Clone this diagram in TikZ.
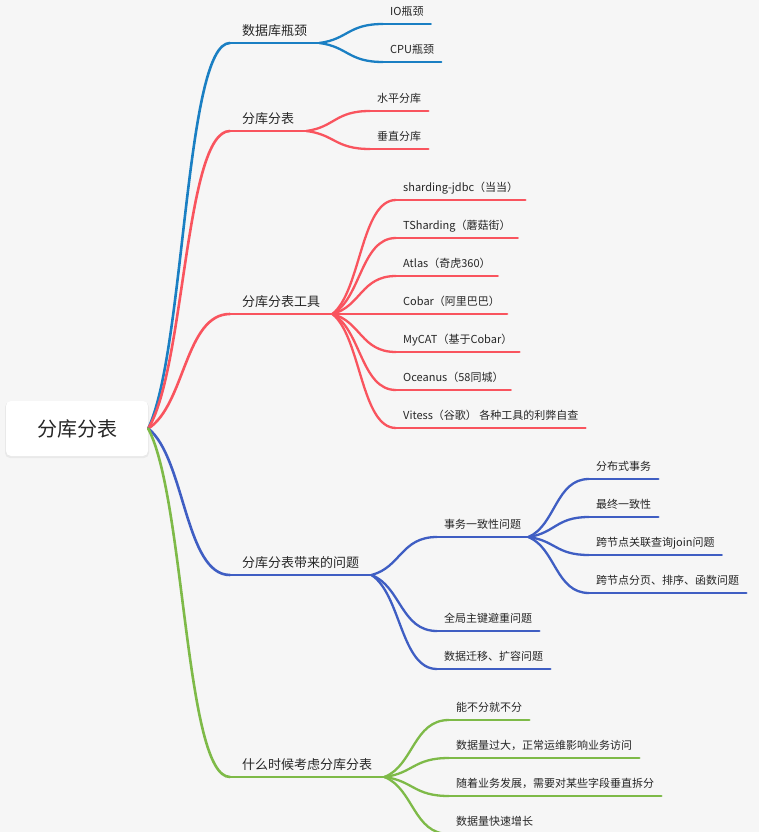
\documentclass[tikz,border=0pt]{standalone}
\usepackage{fontspec}
\setmainfont{Noto Sans CJK SC}
\usetikzlibrary{calc}

\definecolor{bg}{HTML}{F6F6F6}
\definecolor{ink}{HTML}{262626}
\definecolor{dbblue}{HTML}{1A7FC3}
\definecolor{splitred}{HTML}{F9545E}
\definecolor{probblue}{HTML}{3F5EC3}
\definecolor{whengreen}{HTML}{7EBA48}

% curved connector from one anchor to another
\newcommand\bough[3][thin branch]{\draw[#1] let \p1=(#2), \p2=(#3) in (\p1) .. controls ({\x1+0.45*(\x2-\x1)},{\y1+0.2*(\y2-\y1)}) and ({\x1+0.45*(\x2-\x1)},\y2) .. (\p2);}

\tikzset{
  rootbox/.style={fill=white, rounded corners=5pt, minimum width=142pt, minimum height=55pt, font=\fontsize{20}{24}\selectfont, text=ink},
  topic/.style={anchor=south west, inner xsep=12pt, inner ysep=4.5pt, text height=11pt, text depth=2.5pt, font=\fontsize{13}{15}\selectfont, text=ink},
  leaf/.style={anchor=south west, inner xsep=7pt, inner ysep=6pt, text height=9pt, text depth=2pt, font=\fontsize{11}{13}\selectfont, text=ink},
  thick branch/.style={line width=2.6pt},
  thin branch/.style={line width=2.3pt}
}

\begin{document}
\begin{tikzpicture}[x=1pt, y=-1pt, line cap=round]
  \fill[bg] (0,0) rectangle (759,832);
  \useasboundingbox (0,0) rectangle (759,832);
  \clip (0,0) rectangle (759,832);

  % root
  \fill[black, opacity=0.05, rounded corners=5pt] (5,402) rectangle (149,458);
  \node[rootbox] (root) at (77,428.5) {分库分表};

  % 数据库瓶颈
  \begin{scope}[color=dbblue]
    \node[topic] (db) at (230,43) {数据库瓶颈};
    \draw[thick branch] (db.south west) -- (db.south east);
    \bough[thick branch]{root.east}{db.south west}
    \foreach \y/\name/\txt in {24/io/IO瓶颈, 62/cpu/CPU瓶颈} {
      \node[leaf] (\name) at (383,\y) {\txt};
      \draw[thin branch] (\name.south west) -- (\name.south east);
      \bough{db.south east}{\name.south west}
    }
  \end{scope}

  % 分库分表
  \begin{scope}[color=splitred]
    \node[topic] (split) at (230,131) {分库分表};
    \draw[thick branch] (split.south west) -- (split.south east);
    \bough[thick branch]{root.east}{split.south west}
    \foreach \y/\name/\txt in {111/horiz/水平分库, 149/vert/垂直分库} {
      \node[leaf] (\name) at (370,\y) {\txt};
      \draw[thin branch] (\name.south west) -- (\name.south east);
      \bough{split.south east}{\name.south west}
    }
  \end{scope}

  % 分库分表工具
  \begin{scope}[color=splitred]
    \node[topic] (tool) at (230,314) {分库分表工具};
    \draw[thick branch] (tool.south west) -- (tool.south east);
    \bough[thick branch]{root.east}{tool.south west}
    \foreach \y/\name/\txt in {200/sj/sharding-jdbc（当当）, 238/ts/TSharding（蘑菇街）, 276/atlas/Atlas（奇虎360）,
        314/cobar/Cobar（阿里巴巴）, 352/mycat/MyCAT（基于Cobar）, 390/oceanus/Oceanus（58同城）,
        428/vitess/Vitess（谷歌） 各种工具的利弊自查} {
      \node[leaf] (\name) at (396,\y) {\txt};
      \draw[thin branch] (\name.south west) -- (\name.south east);
      \bough{tool.south east}{\name.south west}
    }
  \end{scope}

  % 分库分表带来的问题
  \begin{scope}[color=probblue]
    \node[topic] (prob) at (230,575) {分库分表带来的问题};
    \draw[thick branch] (prob.south west) -- (prob.south east);
    \bough[thick branch]{root.east}{prob.south west}
    \foreach \y/\name/\txt in {537/trans/事务一致性问题, 631/pk/全局主键避重问题, 669/mig/数据迁移、扩容问题} {
      \node[leaf] (\name) at (437,\y) {\txt};
      \draw[thin branch] (\name.south west) -- (\name.south east);
      \bough{prob.south east}{\name.south west}
    }
    \foreach \y/\name/\txt in {479/dist/分布式事务, 517/final/最终一致性, 555/join/跨节点关联查询join问题, 593/page/跨节点分页、排序、函数问题} {
      \node[leaf] (\name) at (589,\y) {\txt};
      \draw[thin branch] (\name.south west) -- (\name.south east);
      \bough{trans.south east}{\name.south west}
    }
  \end{scope}

  % 什么时候考虑分库分表
  \begin{scope}[color=whengreen]
    \node[topic] (when) at (230,777) {什么时候考虑分库分表};
    \draw[thick branch] (when.south west) -- (when.south east);
    \bough[thick branch]{root.east}{when.south west}
    \foreach \y/\name/\txt in {720/nosplit/能不分就不分, 758/big/数据量过大，正常运维影响业务访问,
        796/grow/随着业务发展，需要对某些字段垂直拆分, 834/fast/数据量快速增长} {
      \node[leaf] (\name) at (449,\y) {\txt};
      \draw[thin branch] (\name.south west) -- (\name.south east);
      \bough{when.south east}{\name.south west}
    }
  \end{scope}
\end{tikzpicture}
\end{document}
